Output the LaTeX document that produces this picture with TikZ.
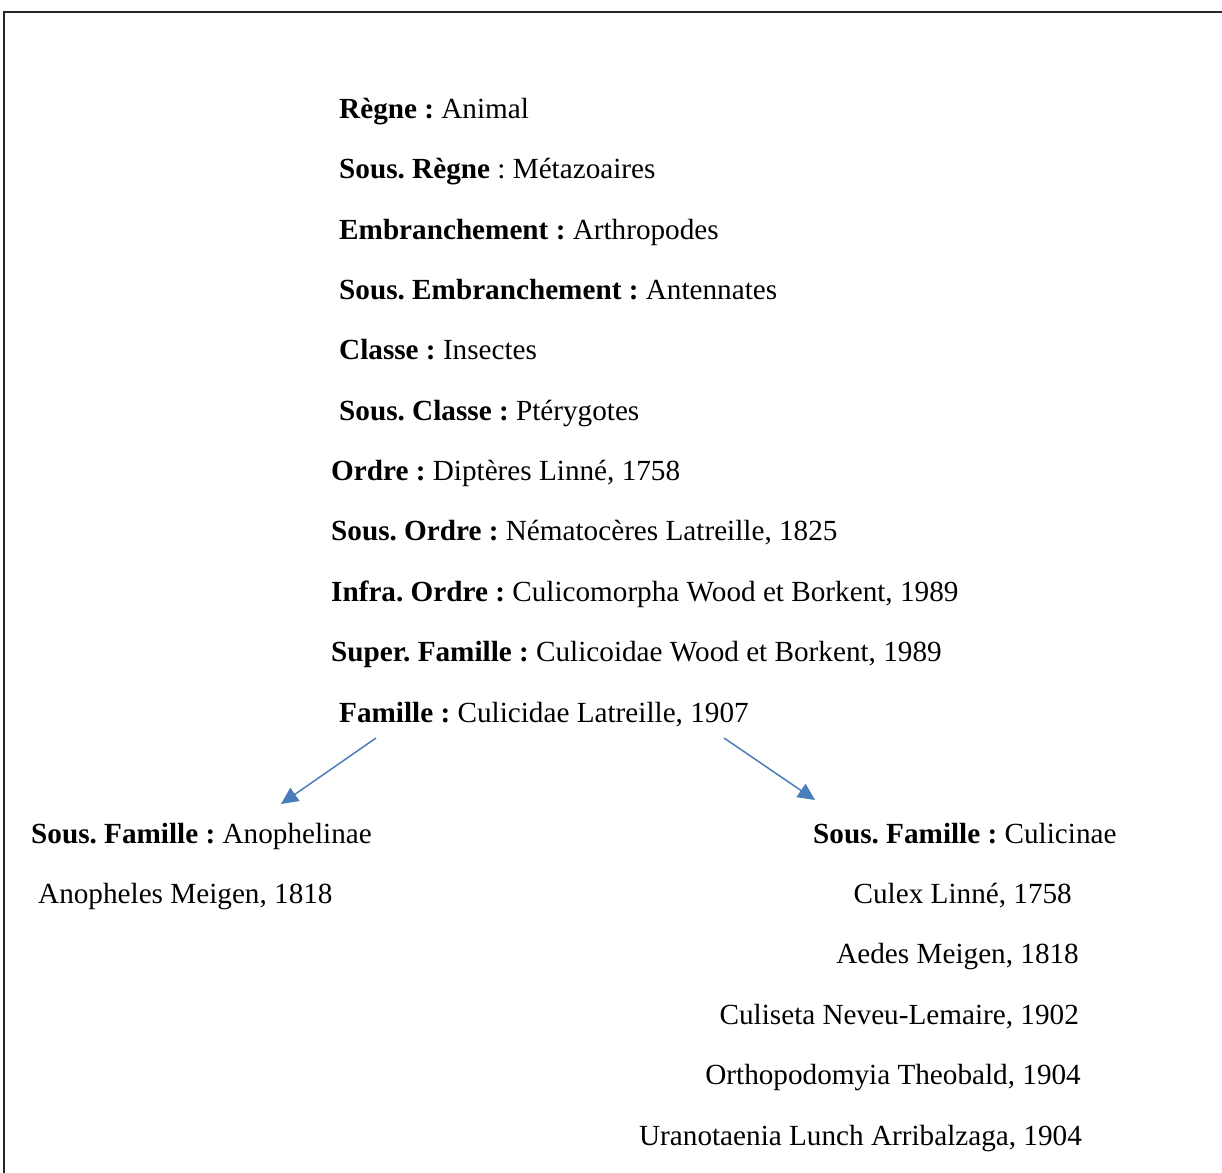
\documentclass[tikz,border=0pt]{standalone}
\usepackage{fontspec}
\setmainfont{Liberation Serif}
\usetikzlibrary{arrows.meta}
\definecolor{arrowblue}{RGB}{74,126,187}
\frenchspacing
\tikzset{
  taxon/.style={anchor=base west,inner sep=0pt,font=\fontsize{29.2}{35}\selectfont},
  genre/.style={anchor=base east,inner sep=0pt,font=\fontsize{29.2}{35}\selectfont},
  fleche/.style={arrowblue,line width=1.5pt,-{Triangle[length=17pt,width=16pt]}}
}
\begin{document}
\begin{tikzpicture}[x=1pt,y=-1pt]
\useasboundingbox (0,0) rectangle (1222,1172);
% cadre
\draw[line width=2pt,black!85] (4,1180) -- (4,12) -- (1230,12);
% classification
\node[taxon] (regne)  at (339,118) {\textbf{Règne :} Animal};
\node[taxon] (sregne) at (339,178) {\textbf{Sous. Règne} : Métazoaires};
\node[taxon] (embr)   at (339,239) {\textbf{Embranchement :} Arthropodes};
\node[taxon] (sembr)  at (339,299) {\textbf{Sous. Embranchement :} Antennates};
\node[taxon] (classe) at (339,359) {\textbf{Classe :} Insectes};
\node[taxon] (sclasse) at (339,420) {\textbf{Sous. Classe :} Ptérygotes};
\node[taxon] (ordre)  at (331,480) {\textbf{Ordre :} Diptères Linné, 1758};
\node[taxon] (sordre) at (331,540) {\textbf{Sous. Ordre :} Nématocères Latreille, 1825};
\node[taxon] (iordre) at (331,601) {\textbf{Infra. Ordre :} Culicomorpha Wood et Borkent, 1989};
\node[taxon] (sfam)   at (331,661) {\textbf{Super. Famille :} Culicoidae Wood et Borkent, 1989};
\node[taxon] (fam)    at (339,722) {\textbf{Famille :} Culicidae Latreille, 1907};
% sous-familles
\node[taxon] (anoph)  at (31,843) {\textbf{Sous. Famille :} Anophelinae};
\node[taxon] (anopheles) at (38,903) {Anopheles Meigen, 1818};
\node[taxon] (culic)  at (813,843) {\textbf{Sous. Famille :} Culicinae};
\node[genre] (culex)  at (1072,903) {Culex Linné, 1758};
\node[genre] (aedes)  at (1079,963) {Aedes Meigen, 1818};
\node[genre] (culiseta) at (1079,1024) {Culiseta Neveu-Lemaire, 1902};
\node[genre] (ortho)  at (1081,1084) {Orthopodomyia Theobald, 1904};
\node[genre] (urano)  at (1082,1145) {Uranotaenia Lunch Arribalzaga, 1904};
% fleches
\coordinate (gauche) at (376,738);
\coordinate (gaucheb) at (281,804);
\coordinate (droite) at (724,738);
\coordinate (droiteb) at (815,800);
\draw[fleche] (gauche) -- (gaucheb);
\draw[fleche] (droite) -- (droiteb);
\end{tikzpicture}
\end{document}
